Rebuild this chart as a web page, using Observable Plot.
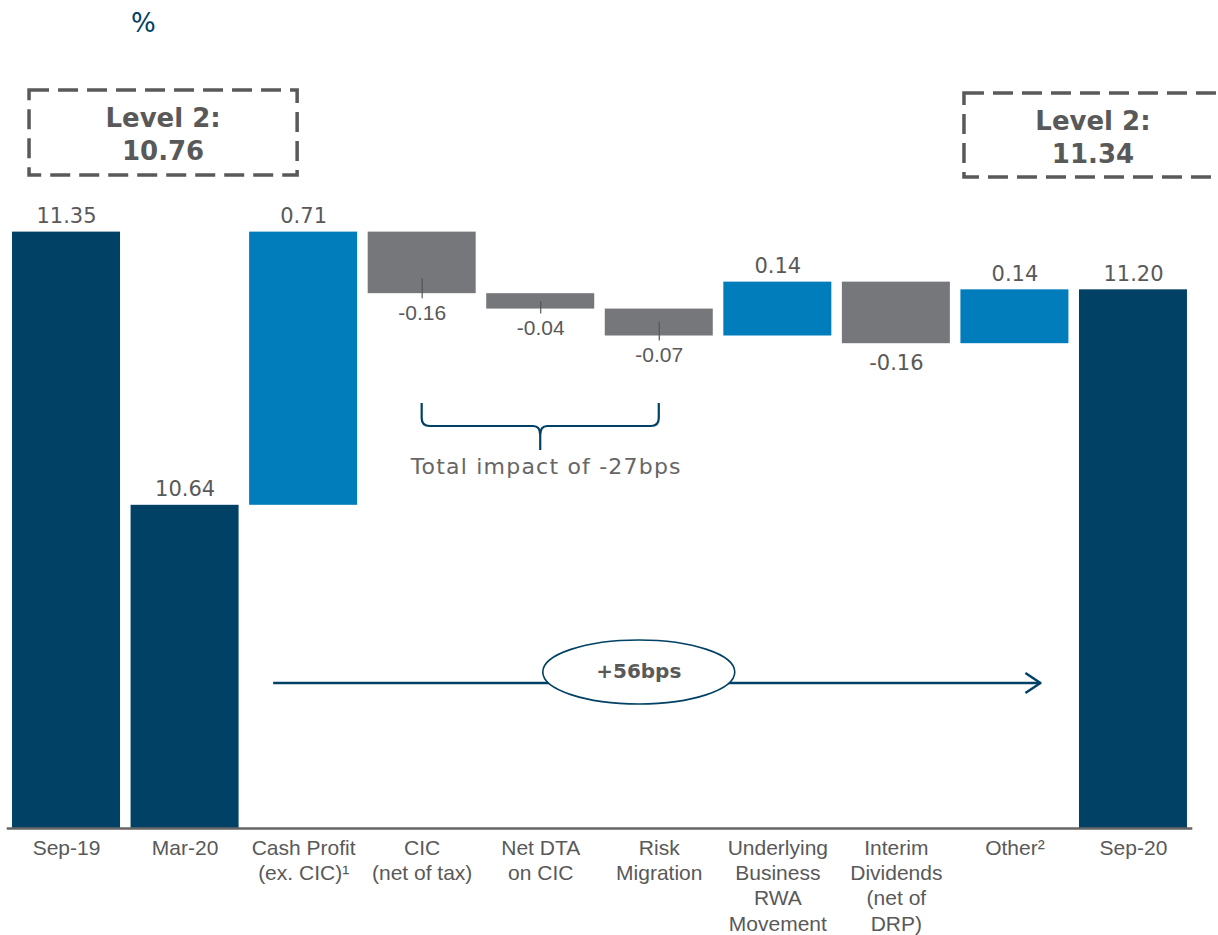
<!DOCTYPE html>
<html><head><meta charset="utf-8">
<script src="https://cdn.jsdelivr.net/npm/d3@7"></script>
<script src="https://cdn.jsdelivr.net/npm/@observablehq/plot@0.6"></script>
<style>
body{margin:0;background:#fff;}
#wrap{position:relative;width:1218px;height:935px;overflow:hidden;}
#title{position:absolute;left:131px;top:8px;font:26px "DejaVu Sans";color:#004165;}
svg{display:block}
</style></head><body><div id="wrap"><div id="title">%</div><div id="chart"></div></div>
<script>
// ---- data ----
const categories = ["Sep-19","Mar-20","Cash Profit\n(ex. CIC)¹","CIC\n(net of tax)","Net DTA\non CIC","Risk\nMigration","Underlying\nBusiness\nRWA\nMovement","Interim\nDividends\n(net of\nDRP)","Other²","Sep-20"];
const values = [11.35, 10.64, 0.71, -0.16, -0.04, -0.07, 0.14, -0.16, 0.14, 11.20];
const kinds = ["total","total","up","down","down","down","up","down","up","total"];
const labelFonts = ["v","v","v","a","a","a","v","v","v","v"];
const level2Values = ["10.76","11.34"];
const bracketText = "Total impact of -27bps";
const arrowText = "+56bps";

const yMin = 9.8, yMax = 11.9;
const colors = {total:"#004165", up:"#007dba", down:"#76777a"};

let level = 0;
const rows = categories.map((c,i)=>{
  const v = values[i], k = kinds[i];
  let lo, hi;
  if (k === "total") { lo = yMin; hi = v; level = v; }
  else { const s = level, e = level + v; lo = Math.min(s,e); hi = Math.max(s,e); level = e; }
  const label = k === "total" ? v.toFixed(2) : (v<0 ? "-" : "") + Math.abs(v).toFixed(2);
  return {cat:c, lo, hi, kind:k, color:colors[k], label, font:labelFonts[i]};
});

const W = 1218, H = 935, mT = 20, mB = 107;
const k = (H - mT - mB) / (yMax - yMin); // px per unit
const leaders = rows.filter(r => r.font === "a").map(r => ({cat:r.cat, y1:r.lo - 5/k, y2:Math.max(r.lo + Math.min(15/k,(r.hi-r.lo)/2), r.lo)}));

const plot = Plot.plot({
  width: W, height: H, marginTop: mT, marginBottom: mB, marginLeft: 6.7, marginRight: 25.7,
  x: {domain: categories, paddingInner: 0.089, paddingOuter: 0.045, round: false, axis: null},
  y: {domain: [yMin, yMax], axis: null},
  color: {type: "identity"},
  style: {background: "#fff"},
  marks: [
    Plot.barY(rows, {x:"cat", y1:"lo", y2:"hi", fill:"color"}),
    Plot.ruleY([yMin], {stroke:"#666", strokeWidth:2.5}),
    Plot.ruleX(leaders, {x:"cat", y1:"y1", y2:"y2", stroke:"#555", strokeWidth:1.2}),
    Plot.text(rows.filter(r => r.kind !== "down"), {x:"cat", y:"hi", text:"label", dy:-16, fontSize:21, fontFamily:"DejaVu Sans", fill:"#595959"}),
    Plot.text(rows.filter(r => r.kind === "down" && r.font === "v"), {x:"cat", y:"lo", text:"label", dy:19.5, fontSize:21, fontFamily:"DejaVu Sans", fill:"#595959"}),
    Plot.text(rows.filter(r => r.kind === "down" && r.font === "a"), {x:"cat", y:"lo", text:"label", dy:19.5, fontSize:21, fontFamily:"Liberation Sans, Arial", fill:"#595959"}),
    Plot.text(rows, {x:"cat", y:() => yMin, text:"cat", lineAnchor:"top", dy:8, fontSize:21, lineHeight:1.21, fontFamily:"Liberation Sans, Arial", fill:"#595959"})
  ]
});
document.getElementById("chart").appendChild(plot);

// ---- annotations ----
const xs = plot.scale("x");
const bw = xs.bandwidth;
const bx = c => xs.apply(c);
const cx = c => xs.apply(c) + bw/2;
const svg = d3.select(plot);
const g = svg.append("g");

// Level 2 boxes
const boxes = [
  {x0: bx(categories[0]) + 17, x1: bx(categories[2]) + 48, y0: 90, y1: 175, tx: null, val: level2Values[0]},
  {x0: bx(categories[9]) - 115, x1: bx(categories[9]) + 155, y0: 93, y1: 177, tx: null, val: level2Values[1]}
];
boxes[0].tx = (boxes[0].x0 + boxes[0].x1)/2;
boxes[1].tx = boxes[1].x0 + 129;
boxes.forEach(b => {
  g.append("rect").attr("x", b.x0).attr("y", b.y0).attr("width", b.x1-b.x0).attr("height", b.y1-b.y0)
    .attr("fill","none").attr("stroke","#595959").attr("stroke-width",3.5).attr("stroke-dasharray","20,9");
  const t = g.append("text").attr("text-anchor","middle").attr("font-family","DejaVu Sans").attr("font-weight","bold")
    .attr("font-size",26).attr("fill","#595959");
  t.append("tspan").attr("x", b.tx).attr("y", b.y0 + 37).text("Level 2:");
  t.append("tspan").attr("x", b.tx).attr("y", b.y0 + 70).text(b.val);
});

// Bracket
const bxL = cx(categories[3]), bxM = cx(categories[4]), bxR = cx(categories[5]);
const bt = 403, bh = 426, bb = 450;
g.append("path").attr("fill","none").attr("stroke","#004165").attr("stroke-width",2.2)
  .attr("d", `M${bxL},${bt} V${bh-8} Q${bxL},${bh} ${bxL+8},${bh} H${bxM-7} Q${bxM},${bh} ${bxM},${bh+9} V${bb} M${bxM},${bh+9} Q${bxM},${bh} ${bxM+7},${bh} H${bxR-8} Q${bxR},${bh} ${bxR},${bh-8} V${bt}`);
g.append("text").attr("x", bxM + 6).attr("y", 474).attr("text-anchor","middle").attr("font-family","DejaVu Sans")
  .attr("font-size",22).attr("letter-spacing","1.2px").attr("fill","#666").text(bracketText);

// Arrow with ellipse
const ax0 = cx(categories[2]) - 30, ax1 = cx(categories[8]) + 26, ay = 683;
g.append("line").attr("x1",ax0).attr("x2",ax1).attr("y1",ay).attr("y2",ay).attr("stroke","#004165").attr("stroke-width",2.5);
g.append("path").attr("fill","none").attr("stroke","#004165").attr("stroke-width",2.5).attr("stroke-linejoin","round")
  .attr("d", `M${ax1-15},${ay-10} L${ax1},${ay} L${ax1-15},${ay+10}`);
const ex = cx(categories[5]) - 20;
g.append("ellipse").attr("cx", ex).attr("cy", 672).attr("rx", 96).attr("ry", 32).attr("fill","#fff").attr("stroke","#004165").attr("stroke-width",1.6);
g.append("text").attr("x", ex).attr("y", 678).attr("text-anchor","middle").attr("font-family","DejaVu Sans").attr("font-weight","bold")
  .attr("font-size",20).attr("fill","#595959").text(arrowText);
</script>
</body></html>
